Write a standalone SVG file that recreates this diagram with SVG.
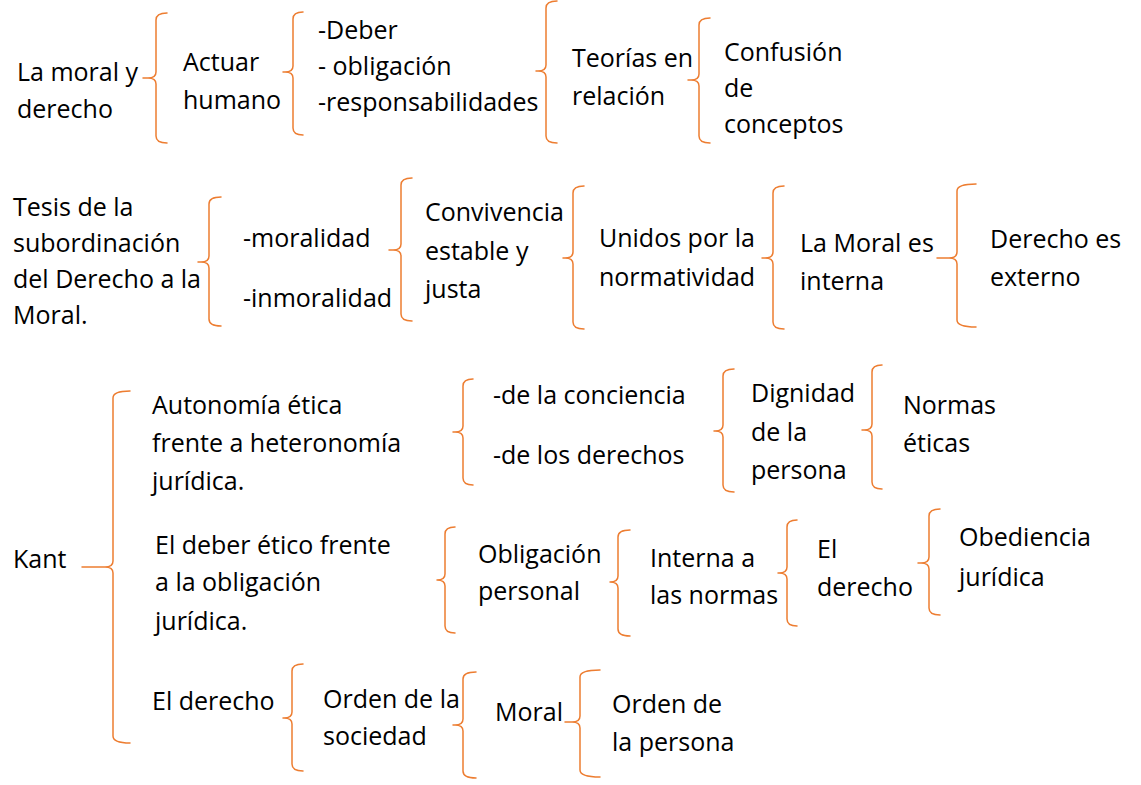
<svg xmlns="http://www.w3.org/2000/svg" width="1141" height="785" viewBox="0 0 1141 785">
<style>
text{font-family:"Open Sans","Liberation Sans",sans-serif;font-size:25px;fill:#000}
.br{fill:none;stroke:#ED7D31;stroke-width:1.5;stroke-linecap:round;stroke-linejoin:round}
</style>
<rect width="1141" height="785" fill="#fff"/>
<g id="connectors">
<path class="br" d="M167,13 Q156,13 156,20 V72 Q156,78 148,78 H143 M148,78 Q156,78 156,84 V136 Q156,143 167,143"/>
<path class="br" d="M303,12 Q293,12 293,19 V66 Q293,72 285,72 H283 M285,72 Q293,72 293,78 V128 Q293,135 303,135"/>
<path class="br" d="M557,1 Q546,1 546,8 V65 Q546,71 538,71 H536 M538,71 Q546,71 546,77 V136 Q546,143 557,143"/>
<path class="br" d="M710,18 Q699,18 699,25 V74 Q699,80 691,80 H688 M691,80 Q699,80 699,86 V136 Q699,143 710,143"/>
<path class="br" d="M221,197 Q209,197 209,204 V256 Q209,262 201,262 H198 M201,262 Q209,262 209,268 V319 Q209,326 221,326"/>
<path class="br" d="M412,178 Q401,178 401,185 V244 Q401,250 393,250 H389 M393,250 Q401,250 401,256 V314 Q401,321 412,321"/>
<path class="br" d="M584,186 Q573,186 573,193 V252 Q573,258 565,258 H563 M565,258 Q573,258 573,264 V322 Q573,329 584,329"/>
<path class="br" d="M784,186 Q773,186 773,193 V252 Q773,258 765,258 H762 M765,258 Q773,258 773,264 V322 Q773,329 784,329"/>
<path class="br" d="M976,184 Q957,184 957,191 V252 Q957,258 949,258 H937 M949,258 Q957,258 957,264 V320 Q957,327 976,327"/>
<path class="br" d="M130,391 Q113,391 113,398 V561 Q113,567 105,567 H82 M105,567 Q113,567 113,573 V736 Q113,743 130,743"/>
<path class="br" d="M473,379 Q463,379 463,386 V426 Q463,432 455,432 H453 M455,432 Q463,432 463,438 V478 Q463,485 473,485"/>
<path class="br" d="M734,369 Q723,369 723,376 V425 Q723,431 715,431 H714 M715,431 Q723,431 723,437 V485 Q723,492 734,492"/>
<path class="br" d="M882,365 Q872,365 872,372 V424 Q872,430 864,430 H862 M864,430 Q872,430 872,436 V482 Q872,489 882,489"/>
<path class="br" d="M455,527 Q445,527 445,534 V574 Q445,580 437,580 M437,580 Q445,580 445,586 V626 Q445,633 455,633"/>
<path class="br" d="M630,530 Q618,530 618,537 V576 Q618,582 610,582 M610,582 Q618,582 618,588 V629 Q618,636 630,636"/>
<path class="br" d="M797,520 Q787,520 787,527 V567 Q787,573 779,573 H778 M779,573 Q787,573 787,579 V619 Q787,626 797,626"/>
<path class="br" d="M940,509 Q929,509 929,516 V557 Q929,563 921,563 H918 M921,563 Q929,563 929,569 V608 Q929,615 940,615"/>
<path class="br" d="M303,664 Q292,664 292,671 V712 Q292,718 284,718 H283 M284,718 Q292,718 292,724 V764 Q292,771 303,771"/>
<path class="br" d="M476,672 Q463,672 463,679 V719 Q463,725 455,725 H453 M455,725 Q463,725 463,731 V771 Q463,778 476,778"/>
<path class="br" d="M600,670 Q580,670 580,677 V716 Q580,722 572,722 H565 M572,722 Q580,722 580,728 V770 Q580,777 600,777"/>
</g>
<g id="n1"><text x="17" y="81">La moral y</text><text x="17" y="118">derecho</text></g>
<g id="n2"><text x="183" y="71">Actuar</text><text x="183" y="109">humano</text></g>
<g id="n3"><text x="318" y="39">-Deber</text><text x="318" y="75">- obligación</text><text x="318" y="111">-responsabilidades</text></g>
<g id="n4"><text x="572" y="67">Teorías en</text><text x="572" y="105">relación</text></g>
<g id="n5"><text x="724" y="61">Confusión</text><text x="724" y="97">de</text><text x="724" y="133">conceptos</text></g>
<g id="n6"><text x="13" y="216">Tesis de la</text><text x="13" y="252">subordinación</text><text x="13" y="288">del Derecho a la</text><text x="13" y="324">Moral.</text></g>
<g id="n7"><text x="243" y="247">-moralidad</text><text x="243" y="307">-inmoralidad</text></g>
<g id="n8"><text x="425" y="221">Convivencia</text><text x="425" y="260">estable y</text><text x="425" y="298">justa</text></g>
<g id="n9"><text x="599" y="247">Unidos por la</text><text x="599" y="286">normatividad</text></g>
<g id="n10"><text x="800" y="252">La Moral es</text><text x="800" y="290">interna</text></g>
<g id="n11"><text x="990" y="248">Derecho es</text><text x="990" y="286">externo</text></g>
<g id="n12"><text x="13" y="568">Kant</text></g>
<g id="n13"><text x="152" y="414">Autonomía ética</text><text x="152" y="452">frente a heteronomía</text><text x="152" y="490">jurídica.</text></g>
<g id="n14"><text x="493" y="404">-de la conciencia</text><text x="493" y="464">-de los derechos</text></g>
<g id="n15"><text x="751" y="402">Dignidad</text><text x="751" y="441">de la</text><text x="751" y="479">persona</text></g>
<g id="n16"><text x="903" y="414">Normas</text><text x="903" y="452">éticas</text></g>
<g id="n17"><text x="155" y="554">El deber ético frente</text><text x="155" y="591">a la obligación</text><text x="155" y="630">jurídica.</text></g>
<g id="n18"><text x="478" y="563">Obligación</text><text x="478" y="600">personal</text></g>
<g id="n19"><text x="650" y="567">Interna a</text><text x="650" y="604">las normas</text></g>
<g id="n20"><text x="817" y="558">El</text><text x="817" y="596">derecho</text></g>
<g id="n21"><text x="959" y="546">Obediencia</text><text x="959" y="586">jurídica</text></g>
<g id="n22"><text x="152" y="710">El derecho</text></g>
<g id="n23"><text x="323" y="708">Orden de la</text><text x="323" y="745">sociedad</text></g>
<g id="n24"><text x="495" y="721">Moral</text></g>
<g id="n25"><text x="612" y="713">Orden de</text><text x="612" y="751">la persona</text></g>
</svg>
